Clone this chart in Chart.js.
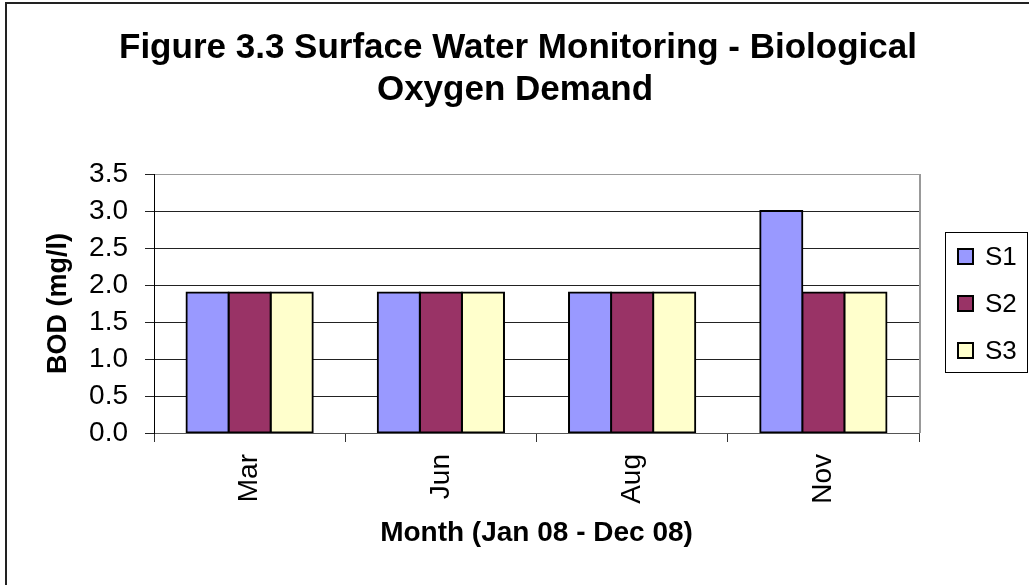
<!DOCTYPE html>
<html>
<head>
<meta charset="utf-8">
<script src="https://cdn.jsdelivr.net/npm/chart.js@4.4.1/dist/chart.umd.min.js"></script>
<style>
  html, body { margin: 0; padding: 0; background: #fff; }
  #wrap { width: 1029px; height: 585px; }
</style>
</head>
<body>
<div id="wrap"><canvas id="c" width="1029" height="585"></canvas></div>
<script>
const categories = ["Mar", "Jun", "Aug", "Nov"];
const seriesNames = ["S1", "S2", "S3"];
const s1 = [1.9, 1.9, 1.9, 3.0];
const s2 = [1.9, 1.9, 1.9, 1.9];
const s3 = [1.9, 1.9, 1.9, 1.9];
const yTicks = [0.0, 0.5, 1.0, 1.5, 2.0, 2.5, 3.0, 3.5];
const titleLines = ["Figure 3.3 Surface Water Monitoring - Biological", "Oxygen Demand"];
const xTitle = "Month (Jan 08 - Dec 08)";
const yTitle = "BOD (mg/l)";
const colors = ["#9999FF", "#993366", "#FFFFCC"];

const FONT = "'Liberation Sans', Arial, Helvetica, sans-serif";

const decor = {
  id: 'decor',
  beforeDraw(chart) {
    const ctx = chart.ctx;
    ctx.save();
    ctx.fillStyle = '#fff';
    ctx.fillRect(0, 0, chart.width, chart.height);
    ctx.strokeStyle = '#222';
    ctx.lineWidth = 2;
    ctx.beginPath();
    ctx.moveTo(6, chart.height + 5);
    ctx.lineTo(6, 3);
    ctx.lineTo(chart.width + 5, 3);
    ctx.stroke();
    ctx.restore();
  },
  afterDraw(chart) {
    const ctx = chart.ctx;
    const a = chart.chartArea;
    ctx.save();
    ctx.strokeStyle = '#999';
    ctx.lineWidth = 2;
    ctx.beginPath();
    ctx.moveTo(a.right + 1, a.top);
    ctx.lineTo(a.right + 1, a.bottom);
    ctx.stroke();
    ctx.fillStyle = '#000';
    ctx.font = "bold 35px " + FONT;
    ctx.textAlign = 'center';
    ctx.textBaseline = 'alphabetic';
    ctx.fillText(titleLines[0], 518, 58);
    ctx.fillText(titleLines[1], 515, 100);
    const lx = 945, ly = 232, lw = 82, lh = 140;
    ctx.strokeStyle = '#000';
    ctx.lineWidth = 1;
    ctx.strokeRect(lx + 0.5, ly + 0.5, lw, lh);
    ctx.font = "26px " + FONT;
    ctx.textAlign = 'left';
    ctx.textBaseline = 'middle';
    chart.data.datasets.forEach((ds, i) => {
      const cy = 257 + i * 47;
      ctx.fillStyle = ds.backgroundColor;
      ctx.fillRect(958, cy - 8, 15, 15);
      ctx.lineWidth = 2;
      ctx.strokeStyle = '#000';
      ctx.strokeRect(958, cy - 8, 15, 15);
      ctx.fillStyle = '#000';
      ctx.fillText(ds.label, 985, cy + 1);
    });
    ctx.restore();
  }
};

new Chart(document.getElementById('c'), {
  type: 'bar',
  data: {
    labels: categories,
    datasets: [s1, s2, s3].map((d, i) => ({
      label: seriesNames[i],
      data: d,
      backgroundColor: colors[i],
      borderColor: '#000',
      borderWidth: 2,
      borderSkipped: false,
      inflateAmount: 1,
      categoryPercentage: 0.66,
      barPercentage: 1.0
    }))
  },
  options: {
    responsive: false,
    devicePixelRatio: 1,
    animation: false,
    layout: { padding: { left: 42, right: 110, top: 174, bottom: 35 } },
    plugins: { legend: { display: false }, title: { display: false }, tooltip: { enabled: false } },
    scales: {
      x: {
        grid: { drawOnChartArea: false, drawTicks: true, tickLength: 9, color: '#333', offset: true },
        border: { display: true, color: '#555', width: 1 },
        ticks: {
          color: '#000', font: { family: FONT, size: 28 }, padding: 12,
          minRotation: 90, maxRotation: 90, autoSkip: false
        },
        title: { display: true, text: xTitle, color: '#000', font: { family: FONT, size: 28, weight: 'bold' }, padding: 0 },
        afterFit(scale) { scale.height = 117; }
      },
      y: {
        min: 0, max: 3.5,
        afterBuildTicks(scale) { scale.ticks = yTicks.map(v => ({ value: v })); },
        grid: {
          color: (c) => (c.tick && c.tick.value === 3.5) ? '#999' : '#222',
          tickColor: '#222', tickLength: 9, lineWidth: 1
        },
        border: { display: true, color: '#000', width: 1 },
        ticks: {
          color: '#000', font: { family: FONT, size: 28 }, padding: 17,
          callback: (v) => Number(v).toFixed(1)
        },
        title: { display: true, text: yTitle, color: '#000', font: { family: FONT, size: 27, weight: 'bold' }, padding: 0 },
        afterFit(scale) { scale.width = 112; }
      }
    }
  },
  plugins: [decor]
});
</script>
</body>
</html>
